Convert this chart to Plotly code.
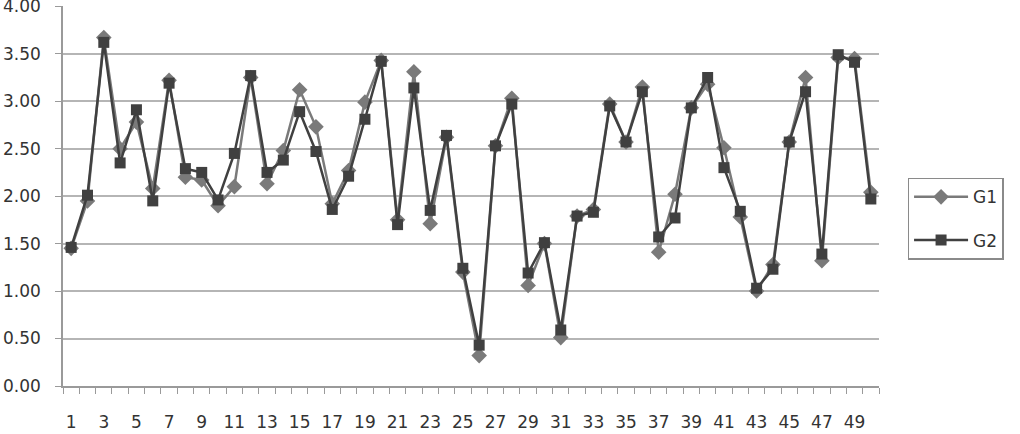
import plotly.graph_objects as go

categories = list(range(1, 51))
g1 = [1.45, 1.95, 3.67, 2.50, 2.78, 2.08, 3.22, 2.20, 2.17, 1.90,
      2.10, 3.25, 2.13, 2.48, 3.12, 2.73, 1.92, 2.27, 2.99, 3.43,
      1.75, 3.31, 1.71, 2.62, 1.20, 0.32, 2.53, 3.03, 1.06, 1.50,
      0.51, 1.79, 1.86, 2.97, 2.57, 3.15, 1.41, 2.02, 2.93, 3.18,
      2.51, 1.78, 1.00, 1.28, 2.57, 3.25, 1.32, 3.46, 3.45, 2.04]
g2 = [1.46, 2.01, 3.62, 2.35, 2.91, 1.95, 3.19, 2.29, 2.25, 1.96,
      2.45, 3.27, 2.25, 2.38, 2.89, 2.47, 1.86, 2.21, 2.81, 3.42,
      1.70, 3.14, 1.85, 2.64, 1.24, 0.43, 2.53, 2.97, 1.19, 1.51,
      0.59, 1.79, 1.83, 2.95, 2.57, 3.10, 1.57, 1.77, 2.93, 3.25,
      2.30, 1.84, 1.03, 1.23, 2.57, 3.10, 1.39, 3.49, 3.41, 1.97]
x_tickvals = list(range(1, 51, 2))
y_tickvals = [0, 0.5, 1, 1.5, 2, 2.5, 3, 3.5, 4]

fig = go.Figure()
fig.add_trace(go.Scatter(x=categories, y=g1, name="G1", mode="lines+markers", legendgroup="g1",
                         line=dict(color="#7a7a7a", width=2.5),
                         marker=dict(symbol="diamond", size=12, color="#7a7a7a")))
fig.add_trace(go.Scatter(x=categories, y=g2, name="G2", mode="lines+markers", legendgroup="g2",
                         line=dict(color="#404040", width=2.5),
                         marker=dict(symbol="square", size=11, color="#404040")))

fig.update_layout(
    width=1020, height=434,
    margin=dict(l=63, r=141, t=6, b=48),
    paper_bgcolor="white", plot_bgcolor="white",
    font=dict(family="DejaVu Sans", size=17, color="#333333"),
    showlegend=True,
    legend=dict(x=1.035, y=0.44, xanchor="left", yanchor="middle",
                bordercolor="#8a8a8a", borderwidth=1.5, traceorder="grouped",
                font=dict(size=17), tracegroupgap=18, itemwidth=54),
)
fig.update_xaxes(range=[0.5, 50.5], tickvals=x_tickvals, ticktext=[str(v) for v in x_tickvals],
                 ticks="", showgrid=False, showline=True, linecolor="#9a9a9a", linewidth=1.5,
                 ticklabelstandoff=20, ticklabeloverflow="allow", automargin=False,
                 minor=dict(tick0=0.5, dtick=1, ticks="outside", ticklen=6, tickcolor="#9a9a9a", showgrid=False))
fig.update_yaxes(range=[0, 4.003], tickvals=y_tickvals, ticktext=[f"{v:.2f}" for v in y_tickvals],
                 showgrid=True, gridcolor="#b5b5b5", gridwidth=1.5, automargin=False,
                 showline=True, linecolor="#9a9a9a", linewidth=1.5, ticklabeloverflow="allow",
                 ticklabelstandoff=11,
                 ticks="outside", ticklen=6, tickcolor="#9a9a9a", zeroline=False)

fig.write_html("out.html")
